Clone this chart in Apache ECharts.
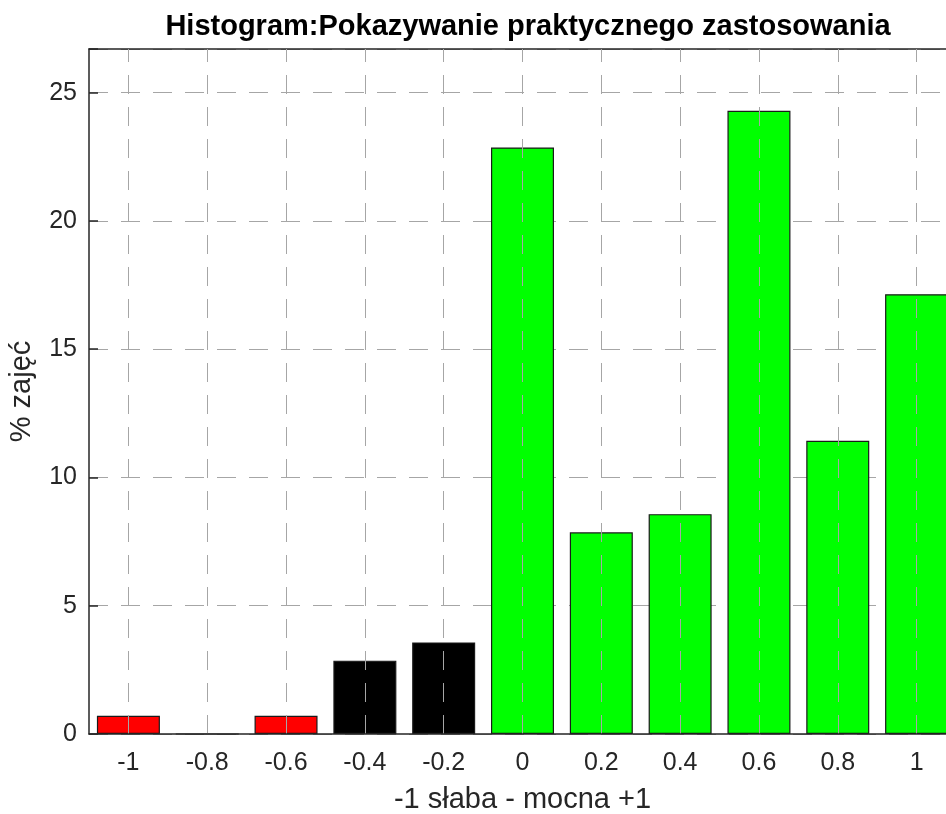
<!DOCTYPE html>
<html>
<head>
<meta charset="utf-8">
<script src="https://cdn.jsdelivr.net/npm/echarts@6/dist/echarts.min.js"></script>
<style>
  html, body { margin: 0; padding: 0; background: #fff; }
  #chart { width: 946px; height: 814px; }
</style>
</head>
<body>
<div id="chart"></div>
<script>
// dane histogramu (% zajęć na przedział)
const categories = ['-1', '-0.8', '-0.6', '-0.4', '-0.2', '0', '0.2', '0.4', '0.6', '0.8', '1'];
const values = [0.71, 0, 0.71, 2.86, 3.57, 22.86, 7.86, 8.57, 24.29, 11.43, 17.14];
const barColors = ['#ff0000', '#ff0000', '#ff0000', '#000000', '#000000',
  '#00ff00', '#00ff00', '#00ff00', '#00ff00', '#00ff00', '#00ff00'];
const yTicks = [0, 5, 10, 15, 20, 25];

const chartDom = document.getElementById('chart');
const myChart = echarts.init(chartDom);

const font = 'Liberation Sans, Arial, sans-serif';
const axisColor = '#262626';
const gridLine = { color: '#a6a6a6', width: 1, type: [19, 13] };

const option = {
  animation: false,
  backgroundColor: '#fff',
  title: {
    text: 'Histogram:Pokazywanie praktycznego zastosowania',
    left: 523, top: 7, textAlign: 'center',
    textStyle: { fontFamily: font, fontSize: 29, fontWeight: 'bold', color: '#000' }
  },
  // prawa krawędź wykresu wychodzi poza obraz (oś x do 1.1)
  grid: { left: 89, top: 49, right: -10, bottom: 80, outerBoundsMode: 'none', containLabel: false },
  xAxis: [
    {
      type: 'category',
      data: categories,
      boundaryGap: true,
      name: '-1 słaba - mocna +1',
      nameLocation: 'middle',
      nameGap: 51,
      nameTextStyle: { fontFamily: font, fontSize: 29, color: axisColor },
      axisLine: { lineStyle: { color: axisColor, width: 1.5 } },
      axisTick: { inside: true, alignWithLabel: true, length: 9, lineStyle: { color: axisColor, width: 1.5 } },
      axisLabel: { fontFamily: font, fontSize: 25, color: axisColor, margin: 17, interval: 0 },
      splitLine: { show: false },
      z: 5
    },
    {
      type: 'category',
      data: categories,
      position: 'top',
      boundaryGap: true,
      axisLine: { lineStyle: { color: axisColor, width: 1.5 } },
      axisTick: { inside: true, alignWithLabel: true, length: 9, lineStyle: { color: axisColor, width: 1.5 } },
      axisLabel: { show: false },
      splitLine: { show: false }
    }
  ],
  yAxis: {
    type: 'value',
    min: 0, max: 26.7, interval: 5,
    name: '% zajęć',
    nameLocation: 'middle',
    nameGap: 53,
    nameRotate: 90,
    nameTextStyle: { fontFamily: font, fontSize: 29, color: axisColor },
    axisLine: { show: true, lineStyle: { color: axisColor, width: 1.5 } },
    axisTick: { show: true, inside: true, length: 9, lineStyle: { color: axisColor, width: 1.5 } },
    axisLabel: {
      fontFamily: font, fontSize: 25, color: axisColor, margin: 12,
      formatter: v => (yTicks.indexOf(v) >= 0 ? String(v) : '')
    },
    splitLine: { show: true, lineStyle: gridLine }
  },
  series: [{
    type: 'bar',
    barWidth: 63,
    data: values.map((v, i) => ({
      value: v,
      itemStyle: { color: barColors[i], borderColor: '#1a1a1a', borderWidth: 1.2 }
    })),
    markLine: {
      silent: true,
      symbol: 'none',
      label: { show: false },
      lineStyle: gridLine,
      data: categories.map(c => ({ xAxis: c }))
    },
    z: 2
  }]
};

option && myChart.setOption(option);
</script>
</body>
</html>
